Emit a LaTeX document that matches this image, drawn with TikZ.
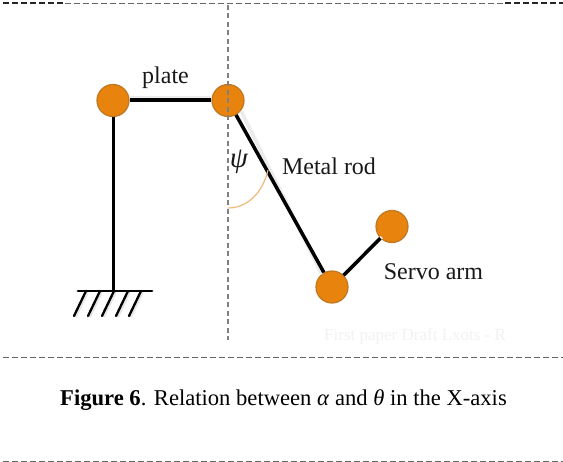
\documentclass[tikz,border=0pt]{standalone}
\usepackage{fontspec}
\setmainfont{Liberation Serif}
\begin{document}
\begin{tikzpicture}[x=1pt,y=-1pt,
  joint/.style={circle,minimum size=32pt,inner sep=0pt,fill=jointorange,draw=jointedge,line width=1.2pt},
  rod/.style={draw=black,line width=3.5pt},
  rodshadow/.style={draw=black!8,line width=3.5pt},
  sep/.style={draw=black!60,line width=0.8pt,dash pattern=on 5.5pt off 3.5pt},
  sepdark/.style={draw=black!85,line width=1.1pt,dash pattern=on 6pt off 3pt},
  lbl/.style={font=\fontsize{24}{26}\selectfont,inner sep=0pt,text=black!90},
  hatch/.style={draw=black,line width=2.3pt,line cap=round}]
\definecolor{jointorange}{RGB}{232,131,14}
\definecolor{jointedge}{RGB}{190,120,35}
\definecolor{arcorange}{RGB}{240,185,125}
\useasboundingbox (0,0) rectangle (563,462);
\fill[white] (0,0) rectangle (563,462);
% page rules
\coordinate (tl) at (3,3); \coordinate (tm1) at (65,3);
\coordinate (tm2) at (505,3); \coordinate (tr) at (563,3);
\draw[sepdark] (tl) -- (tm1);
\draw[sep] (tm1) -- (tm2);
\draw[sepdark] (tm2) -- (tr);
\coordinate (ml) at (3,357); \coordinate (mr) at (563,357);
\draw[sep] (ml) -- (mr);
\coordinate (bl) at (3,461); \coordinate (br) at (563,461);
\draw[sep] (bl) -- (br);
% faint text
\node[font=\fontsize{17}{19}\selectfont,text=black!5,anchor=west,inner sep=0pt] (faint) at (324,336) {First paper Draft Lxots - R};
% joints
\node[joint] (j1) at (113,100.5) {};
\node[joint] (j2) at (228,100.5) {};
\node[joint] (j3) at (332,287) {};
\node[joint] (j4) at (392,226.5) {};
% ground
\coordinate (gl) at (78,291); \coordinate (gr) at (152,291); \coordinate (gc) at (113,291);
\foreach \x [evaluate=\x as \xt using \x+12] in {74,88,102,116,129}{
  \coordinate (hb) at (\x,316); \coordinate (ht) at (\xt,291);
  \draw[draw=black!10,line width=2.6pt] ([xshift=1.5pt,yshift=-1pt]hb) -- ([xshift=1.5pt,yshift=-1pt]ht);
  \draw[hatch] (hb) -- (ht);
}
\draw[draw=black,line width=2.8pt,line cap=round] (gl) -- (gr);
% connectors
\draw[rodshadow] ([yshift=3pt]j1.east) -- ([yshift=3pt]j2.west);
\draw[rodshadow] ([xshift=1.5pt,yshift=1pt]j2.south east) -- ([xshift=1.5pt,yshift=1pt]j3.north west);
\draw[rodshadow] ([xshift=1.5pt,yshift=1pt]j3.north east) -- ([xshift=1.5pt,yshift=1pt]j4.south west);
\draw[rod,line width=4pt] (j1) -- (j2);
\draw[rod,line width=3pt] (j1) -- (gc);
\draw[rod] (j2) -- (j3);
\draw[rod] (j3) -- (j4);
% centre line
\coordinate (vt) at (228,5); \coordinate (vb) at (228,340);
\draw[draw=black!50,line width=1.6pt,dash pattern=on 5pt off 3.5pt] (vt) -- (vb);
% angle arc
\coordinate (as) at (228,208); \coordinate (ae) at (268,170);
\draw[draw=arcorange,line width=1.2pt] (as) .. controls (248,208) and (263,192) .. (ae);
% labels
\node[lbl] (plate) at (165.5,78) {plate};
\node[lbl] (rodlabel) at (329,166) {Metal rod};
\node[lbl] (arm) at (433.5,272) {Servo arm};
\node[lbl,font=\fontsize{29}{31}\itshape] (psi) at (239,162) {ψ};
\node[font=\fontsize{22.6}{25}\selectfont,inner sep=0pt,text=black] (caption) at (283.5,400) {\textbf{Figure 6}. Relation between \textit{α} and \textit{θ} in the X-axis};
\end{tikzpicture}
\end{document}
